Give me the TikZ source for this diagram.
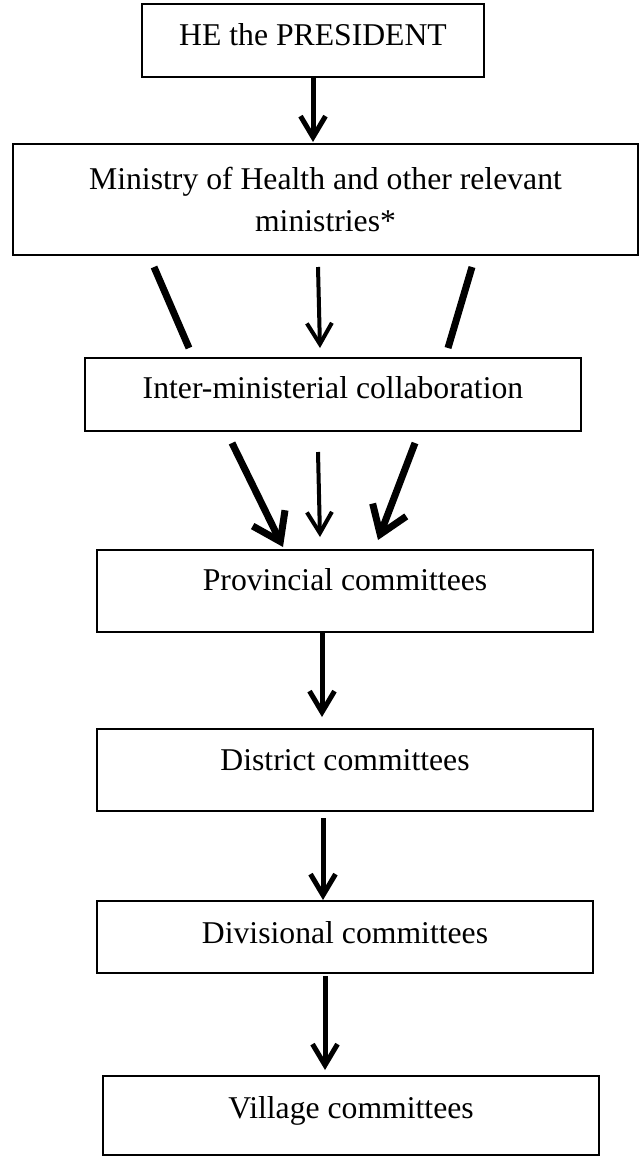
\documentclass[tikz,border=0pt]{standalone}
\usepackage{fontspec}
\setmainfont{Liberation Serif}
\usetikzlibrary{arrows.meta}
\begin{document}
\begin{tikzpicture}
  [x=1pt,y=-1pt,
   tier/.style={rectangle,draw=black,line width=2pt,inner sep=0,outer sep=0,
                align=center,font=\fontsize{31.7}{42}\selectfont},
   flow/.style={line width=5pt,-{Straight Barb[length=21pt,width=25pt]}},
   bigflow/.style={line width=7pt,-{Straight Barb[length=26pt,width=36pt]}},
   plainline/.style={line width=7pt}]
  \useasboundingbox (0,0) rectangle (642,1157);
  \node[tier,anchor=north,minimum width=342pt,text height=41pt,text depth=32pt] (pres) at (313,4) {HE the PRESIDENT};
  \node[tier,minimum width=625pt,minimum height=111pt] (min) at (325.5,199.5) {Ministry of Health and other relevant\\ministries*};
  \node[tier,anchor=north,minimum width=496pt,text height=40.5pt,text depth=32.5pt] (inter) at (333,358) {Inter-ministerial collaboration};
  \node[tier,anchor=north,minimum width=496pt,text height=40.5pt,text depth=41.5pt] (prov) at (345,550) {Provincial committees};
  \node[tier,anchor=north,minimum width=496pt,text height=41.5pt,text depth=40.5pt] (dist) at (345,729) {District committees};
  \node[tier,anchor=north,minimum width=496pt,text height=42.5pt,text depth=29.5pt] (div) at (345,901) {Divisional committees};
  \node[tier,anchor=north,minimum width=496pt,text height=42.5pt,text depth=36.5pt] (vil) at (351,1076) {Village committees};
  % president to ministries
  \draw[flow] (pres.south) to ([yshift=2pt]pres.south |- min.north);
  % ministries to collaboration
  \draw[plainline] ([xshift=-171.5pt,yshift=-12pt]min.south) to ([xshift=-144pt,yshift=10pt]inter.north);
  \draw[flow,line width=4pt] ([xshift=-7.5pt,yshift=-12pt]min.south) to ([xshift=-13pt,yshift=10pt]inter.north);
  \draw[plainline] ([xshift=146.5pt,yshift=-12pt]min.south) to ([xshift=115pt,yshift=10pt]inter.north);
  % collaboration to provinces
  \draw[bigflow] ([xshift=-101pt,yshift=-12pt]inter.south) to ([xshift=-62pt,yshift=3pt]prov.north);
  \draw[flow,line width=4pt] ([xshift=-15pt,yshift=-21pt]inter.south) to ([xshift=-25pt,yshift=13pt]prov.north);
  \draw[bigflow] ([xshift=82pt,yshift=-12pt]inter.south) to ([xshift=33pt,yshift=10pt]prov.north);
  % down the committees
  \draw[flow] ([xshift=-23pt]prov.south) to ([xshift=-23pt,yshift=12pt]dist.north);
  \draw[flow] ([xshift=-22pt,yshift=-7pt]dist.south) to ([xshift=-22pt,yshift=1pt]div.north);
  \draw[flow] ([xshift=-20pt,yshift=-3pt]div.south) to ([xshift=-26pt,yshift=6pt]vil.north);
\end{tikzpicture}
\end{document}
